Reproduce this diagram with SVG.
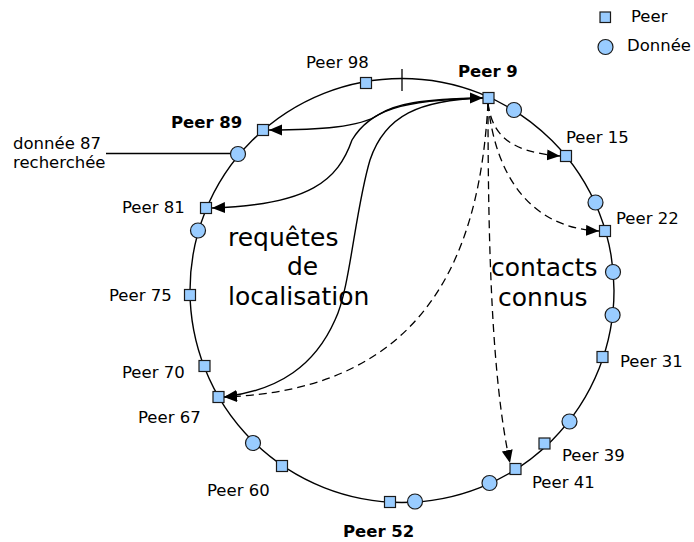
<svg xmlns="http://www.w3.org/2000/svg" width="694" height="542" viewBox="0 0 694 542">
  <style>
    text { font-family: "DejaVu Sans", "Liberation Sans", sans-serif; fill: #000; }
    .lbl { font-size: 16.5px; }
    .bold { font-size: 16.5px; font-weight: bold; }
    .big { font-size: 25px; }
    .peer { fill: #99ccff; stroke: #1a1a1a; stroke-width: 1.2; }
    .data { fill: #99ccff; stroke: #1a1a1a; stroke-width: 1.2; }
    .ring { fill: none; stroke: #000; stroke-width: 1.4; }
    .req { fill: none; stroke: #000; stroke-width: 1.4; marker-end: url(#head); }
    .ctc { fill: none; stroke: #000; stroke-width: 1.3; stroke-dasharray: 8 5; marker-end: url(#head); }
  </style>
  <defs>
    <marker id="head" markerUnits="userSpaceOnUse" markerWidth="14" markerHeight="12" refX="13" refY="5.5" orient="auto">
      <path d="M0,0 L13,5.5 L0,11 z" fill="#000"/>
    </marker>
  </defs>

  <rect width="694" height="542" fill="#fff"/>

  <!-- ring -->
  <circle class="ring" cx="402" cy="290.5" r="212"/>
  <line x1="402" y1="69" x2="402" y2="91" stroke="#000" stroke-width="1.3"/>
  <!-- pointer to the searched data item -->
  <line x1="106" y1="153.5" x2="232" y2="153.5" stroke="#000" stroke-width="1.3"/>

  <!-- connectors -->
  <g id="connectors">
    <!-- lookup requests (solid) -->
    <path class="req" d="M 483 98 C 420 99, 395 104, 378 115 C 360 127, 320 130, 269 130"/>
    <path class="req" d="M 483 98 C 400 100, 370 110, 352 140 C 338 180, 310 205, 212 208"/>
    <path class="req" d="M 483 98 C 420 100, 385 115, 370 160 C 355 210, 350 290, 335 320 C 315 365, 280 390, 224 397"/>
    <path d="M 470 92.5 L 483 98 L 470 103.5 z" fill="#000"/>
    <!-- known contacts (dashed) -->
    <path class="ctc" d="M 488 103 C 492 135, 510 152, 560 156"/>
    <path class="ctc" d="M 488 103 C 495 175, 530 228, 599 231"/>
    <path class="ctc" d="M 488 103 C 488 250, 492 380, 510 463"/>
    <path class="ctc" d="M 488 103 C 480 250, 430 390, 224 397"/>
  </g>

  <!-- peers -->
  <g id="peer98"><rect class="peer" x="360.5" y="77.5" width="11" height="11"/><text class="lbl" x="306" y="68">Peer 98</text></g>
  <g id="peer9"><rect class="peer" x="483" y="92.5" width="11" height="11"/><text class="bold" x="458" y="77">Peer 9</text></g>
  <g id="peer15"><rect class="peer" x="560.5" y="150.5" width="11" height="11"/><text class="lbl" x="566" y="143">Peer 15</text></g>
  <g id="peer22"><rect class="peer" x="599.5" y="225.5" width="11" height="11"/><text class="lbl" x="616" y="224">Peer 22</text></g>
  <g id="peer31"><rect class="peer" x="597" y="351.5" width="11" height="11"/><text class="lbl" x="620" y="367">Peer 31</text></g>
  <g id="peer39"><rect class="peer" x="539" y="438" width="11" height="11"/><text class="lbl" x="562" y="461">Peer 39</text></g>
  <g id="peer41"><rect class="peer" x="510" y="463.5" width="11" height="11"/><text class="lbl" x="532" y="488">Peer 41</text></g>
  <g id="peer52"><rect class="peer" x="384.5" y="496.5" width="11" height="11"/><text class="bold" x="343" y="537">Peer 52</text></g>
  <g id="peer60"><rect class="peer" x="276.5" y="460.5" width="11" height="11"/><text class="lbl" x="207" y="496">Peer 60</text></g>
  <g id="peer67"><rect class="peer" x="213" y="391.5" width="11" height="11"/><text class="lbl" x="138" y="423">Peer 67</text></g>
  <g id="peer70"><rect class="peer" x="199" y="360.5" width="11" height="11"/><text class="lbl" x="122" y="378">Peer 70</text></g>
  <g id="peer75"><rect class="peer" x="184.5" y="289.5" width="11" height="11"/><text class="lbl" x="109" y="301">Peer 75</text></g>
  <g id="peer81"><rect class="peer" x="200.5" y="202.5" width="11" height="11"/><text class="lbl" x="122" y="213">Peer 81</text></g>
  <g id="peer89"><rect class="peer" x="257.5" y="124.5" width="11" height="11"/><text class="bold" x="171" y="128">Peer 89</text></g>

  <!-- data items -->
  <g id="data-a"><circle class="data" cx="514" cy="110" r="7.5"/></g>
  <g id="data-b"><circle class="data" cx="595.5" cy="202.5" r="7.5"/></g>
  <g id="data-c"><circle class="data" cx="613" cy="272" r="7.5"/></g>
  <g id="data-d"><circle class="data" cx="612.6" cy="315" r="7.5"/></g>
  <g id="data-e"><circle class="data" cx="569.5" cy="421.5" r="7.5"/></g>
  <g id="data-f"><circle class="data" cx="489.5" cy="483" r="7.5"/></g>
  <g id="data-g"><circle class="data" cx="415" cy="501.5" r="7.5"/></g>
  <g id="data-h"><circle class="data" cx="253" cy="443" r="7.5"/></g>
  <g id="data-i"><circle class="data" cx="198" cy="230.5" r="7.5"/></g>
  <g id="data87"><circle class="data" cx="238" cy="154" r="7.5"/>
    <text class="lbl" x="13" y="149">donnée 87</text>
    <text class="lbl" x="13" y="168">recherchée</text>
  </g>

  <!-- region captions -->
  <g id="caption-requests">
    <text class="big" x="228" y="246">requêtes</text>
    <text class="big" x="287" y="275">de</text>
    <text class="big" x="228" y="305">localisation</text>
  </g>
  <g id="caption-contacts">
    <text class="big" x="491" y="276">contacts</text>
    <text class="big" x="498" y="306">connus</text>
  </g>

  <!-- legend -->
  <g id="legend">
    <rect class="peer" x="600" y="12" width="10.5" height="10.5"/>
    <text class="lbl" x="631" y="22">Peer</text>
    <circle class="data" cx="605.5" cy="47" r="7.5"/>
    <text class="lbl" x="627" y="51">Donnée</text>
  </g>
</svg>
